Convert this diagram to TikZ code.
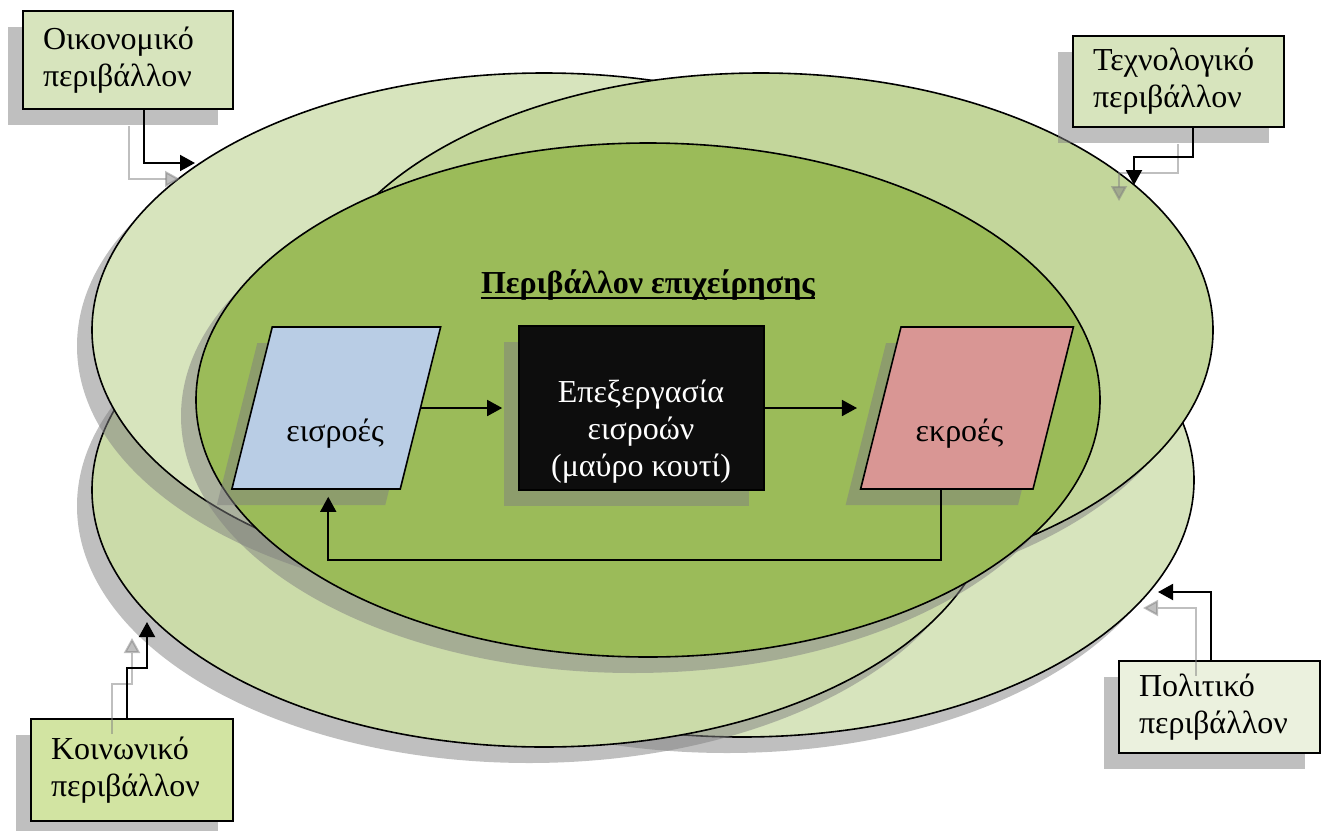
\documentclass[tikz,border=0pt]{standalone}
\usepackage{fontspec}
\setmainfont{Liberation Serif}
\usetikzlibrary{shapes.geometric,shadows,arrows.meta}

\definecolor{olivepale}{HTML}{D7E4BD}
\definecolor{olivemid}{HTML}{C3D69B}
\definecolor{olivesoft}{HTML}{CBDBA9}
\definecolor{olivedark}{HTML}{9BBB59}
\definecolor{olivelight}{HTML}{EBF1DE}
\definecolor{olivelime}{HTML}{D2E4A2}
\definecolor{inblue}{HTML}{B9CDE5}
\definecolor{outred}{HTML}{D99694}
\definecolor{boxblack}{HTML}{0D0D0D}

\begin{document}
\begin{tikzpicture}[x=0.5pt, y=-0.5pt,
	execute at begin picture={\fontsize{16}{18.4}\selectfont},
	shad/.style={drop shadow={shadow xshift=-7.5pt, shadow yshift=-8pt}},
	env/.style={ellipse, draw, line width=0.8pt, minimum width=452pt, minimum height=257pt, inner sep=0pt, shad},
	envbox/.style={rectangle, draw, line width=1pt, align=left, inner xsep=10pt, shad},
	flow/.style={trapezium, trapezium left angle=76, trapezium right angle=104, draw, line width=0.8pt, inner xsep=32pt, inner ysep=40.5pt, shad},
	tip/.style={-{Triangle[length=7.5pt, width=8pt]}},
	conn/.style={tip, line width=1pt},
	connshade/.style={conn, draw=black!50, opacity=.5},
	flowline/.style={tip, line width=0.8pt}]
	\useasboundingbox[fill=white] (0,0) rectangle (1321,830);
	% the four environments and the firm
	\node[env, fill=olivepale] (polEll) at (742,480) {};
	\node[env, fill=olivesoft] (socEll) at (544,490) {};
	\node[env, fill=olivepale] (econEll) at (544,330) {};
	\node[env, fill=olivemid] (techEll) at (761,330) {};
	\node[env, fill=olivedark] (firm) at (648,400) {};
	\node[anchor=base, font=\bfseries, inner sep=0pt] (title) at (648,293) {Περιβάλλον επιχείρησης};
	\draw[line width=1pt] ([yshift=-2.5pt]title.base west) -- ([yshift=-2.5pt]title.base east);
	% black box
	\node[flow, fill=inblue] (inp) at (336.25,408) {};
	\node[rectangle, draw, line width=0.8pt, fill=boxblack, minimum width=122.5pt, minimum height=82pt, inner sep=0pt, shad] (proc) at (641.5,408) {};
	\node[flow, fill=outred, inner xsep=33pt] (outp) at (967,408) {};
	\node[anchor=base] (inpTxt) at (335,441) {εισροές};
	\node[anchor=base] (outpTxt) at (959.5,441) {εκροές};
	\node[align=center, text=white] (procTxt) at (641,431.5) {Επεξεργασία\\εισροών\\(μαύρο κουτί)};
	\draw[flowline] (inp.east) -- ([xshift=-8pt]proc.west);
	\draw[flowline] (proc.east) -- ([xshift=-11.5pt]outp.west);
	\draw[flowline] ([xshift=-13pt]outp.south) -- ++(0,-35pt) -| ([xshift=-4pt,yshift=-3.5pt]inp.south);
	% labels of the environments
	\node[envbox, fill=olivepale, text width=85pt, minimum height=49pt] (econ) at (128,60) {Οικονομικό\\περιβάλλον};
	\node[envbox, fill=olivepale, text width=85.5pt, minimum height=45.5pt] (tech) at (1178.5,81.5) {Τεχνολογικό\\περιβάλλον};
	\node[envbox, fill=olivelime, text width=81pt, minimum height=51pt] (soc) at (132,770) {Κοινωνικό\\περιβάλλον};
	\node[envbox, fill=olivelight, text width=80.5pt, minimum height=46pt] (pol) at (1219.5,707) {Πολιτικό\\περιβάλλον};
	\coordinate (econIn) at (195,163);
	\coordinate (techIn) at (1134,185);
	\coordinate (socIn) at (147,622);
	\coordinate (polIn) at (1158,592);
	\begin{scope}[transform canvas={shift={(-7.5pt,-8pt)}}]
		\draw[connshade] ([xshift=8pt]econ.south) |- (econIn);
		\draw[connshade] ([xshift=7.25pt]tech.south) -- ++(0,-14.5pt) -| (techIn);
		\draw[connshade] ([xshift=-2.5pt]soc.north) -- ++(0,25pt) -| (socIn);
		\draw[connshade] ([xshift=-4.25pt]pol.north) |- (polIn);
	\end{scope}
	\draw[conn] ([xshift=8pt]econ.south) |- (econIn);
	\draw[conn] ([xshift=7.25pt]tech.south) -- ++(0,-14.5pt) -| (techIn);
	\draw[conn] ([xshift=-2.5pt]soc.north) -- ++(0,25pt) -| (socIn);
	\draw[conn] ([xshift=-4.25pt]pol.north) |- (polIn);
\end{tikzpicture}
\end{document}
